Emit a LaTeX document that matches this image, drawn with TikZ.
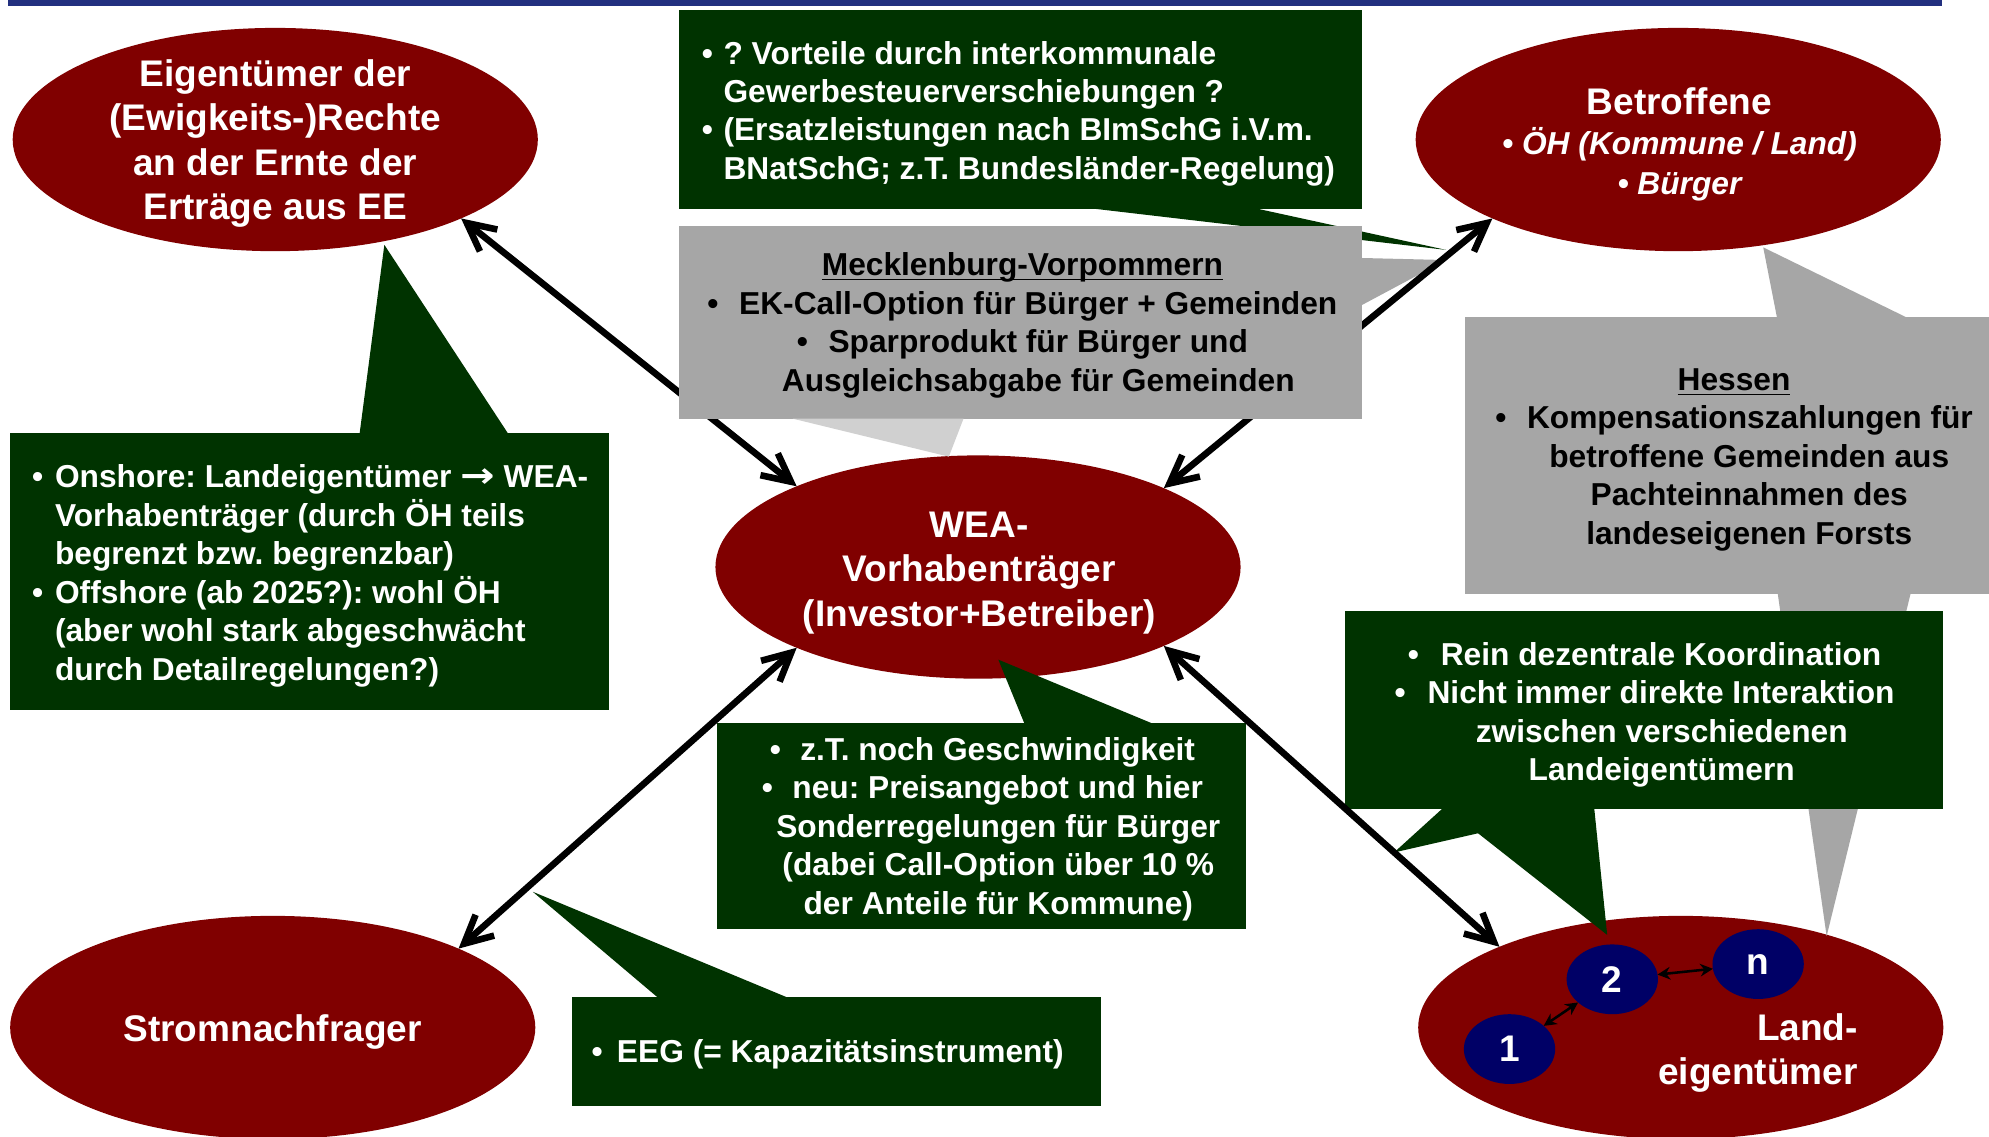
\documentclass[tikz,border=0pt]{standalone}
\usepackage{fontspec}
\usepackage{graphicx}
\setmainfont{Liberation Sans}
\newfontfamily\symfont{DejaVu Sans}
\usetikzlibrary{arrows.meta,shapes.geometric,calc}
\frenchspacing

\definecolor{darkred}{HTML}{800000}
\definecolor{boxgreen}{HTML}{003300}
\definecolor{boxgray}{HTML}{A6A6A6}
\definecolor{palegray}{HTML}{D0D0D0}
\definecolor{navyblue}{HTML}{000066}
\definecolor{barblue}{HTML}{22307F}

% bullet in a box of given width
\newcommand\bul[1]{\makebox[#1][l]{•}}
% underlined heading that keeps its height but drops its depth
\newcommand\ulhead[1]{\underline{\raisebox{0pt}[\height][0pt]{#1}}}

\begin{document}
\begin{tikzpicture}[x=0.5pt,y=-0.5pt,
  blob/.style={ellipse, fill=darkred, minimum width=207pt, minimum height=88pt, inner sep=0pt, outer sep=0pt},
  owner/.style={ellipse, fill=navyblue, minimum width=36pt, minimum height=27.5pt, inner sep=0pt, outer sep=0pt,
                text=white, font=\fontsize{14.6pt}{17pt}\selectfont\bfseries},
  gbox/.style={rectangle, fill=boxgreen, inner sep=0pt, outer sep=0pt},
  pframe/.style={rectangle, inner sep=0pt, outer sep=0pt},
  btext/.style={font=\fontsize{12.5pt}{15.15pt}\selectfont\bfseries, inner sep=0pt},
  etext/.style={font=\fontsize{14.6pt}{17.5pt}\selectfont\bfseries, text=white, align=center, inner sep=0pt},
  link/.style={line width=2.6pt, line cap=round,
               {Straight Barb[length=11pt,width=11pt]}-{Straight Barb[length=11pt,width=11pt]}},
  minilink/.style={line width=1pt, {Stealth[length=5pt,width=5pt]}-{Stealth[length=5pt,width=5pt]}},
]
\clip (0,0) rectangle (1568,896);
\fill[white] (0,0) rectangle (1568,896);

% header rule
\fill[barblue] (6,0) rectangle (1531,4.7);

% actors
\node[blob] (eig) at (217,110) {};
\node[blob] (bet) at (1323,110) {};
\node[blob] (wea) at (771,447) {};
\node[blob] (strom) at (215,810) {};
\node[blob] (land) at (1325,810) {};

% individual land owners
\node[owner] (o1) at (1190,827) {1};
\node[owner] (o2) at (1271,772) {2};
\node[owner] (on) at (1386,760) {n};
\draw[minilink] (o1) -- (o2);
\draw[minilink] (o2) -- (on);

% pointer tips of the callouts
\coordinate (tipG) at (1140,197);
\coordinate (tipMb) at (1140,205);
\coordinate (tipMw) at (748,360);
\coordinate (tipHb) at (1390,195);
\coordinate (tipHl) at (1440,738);
\coordinate (tipO) at (303,193);
\coordinate (tipZ) at (787,520);
\coordinate (tipE) at (420,703);
\coordinate (tipR) at (1267,737);
\coordinate (tipR2) at (1099,672);

% callout: municipal trade tax
\node[gbox, minimum width=269.5pt, minimum height=78.5pt] (topg) at (804.5,86.5) {};
\fill[boxgreen] ($(topg.south west)!7/12!(topg.south east)+(0,-2)$) -- (tipG)
  -- ($(topg.south west)!10/12!(topg.south east)+(0,-2)$) -- cycle;

% frame of the Mecklenburg-Vorpommern callout (filled later, above the arrows)
\path node[pframe, minimum width=269.5pt, minimum height=76pt] (meck) at (804.5,254) {};
\fill[boxgray] ($(meck.north east)!2/12!(meck.south east)+(-2,0)$) -- (tipMb)
  -- ($(meck.north east)!5/12!(meck.south east)+(-2,0)$) -- cycle;

% callout: Hessen
\node[rectangle, fill=boxgray, inner sep=0pt, outer sep=0pt, minimum width=211pt, minimum height=109pt] (hess) at (1366,359) {};
\fill[boxgray] ($(hess.north west)!7/12!(hess.north east)+(0,2)$) -- (tipHb)
  -- ($(hess.north west)!10/12!(hess.north east)+(0,2)$) -- cycle;
\fill[boxgray] ($(hess.south west)!7/12!(hess.south east)+(0,-2)$) -- (tipHl)
  -- ($(hess.south west)!10/12!(hess.south east)+(0,-2)$) -- cycle;

% callout: onshore / offshore
\node[gbox, minimum width=236pt, minimum height=109.5pt] (onsh) at (244,450.5) {};
\fill[boxgreen] ($(onsh.north west)!7/12!(onsh.north east)+(0,2)$) -- (tipO)
  -- ($(onsh.north west)!10/12!(onsh.north east)+(0,2)$) -- cycle;

% callout: speed / price bid
\node[gbox, minimum width=208.5pt, minimum height=81pt] (ztb) at (773.5,651) {};
\fill[boxgreen] ($(ztb.north west)!7/12!(ztb.north east)+(0,2)$) -- (tipZ)
  -- ($(ztb.north west)!10/12!(ztb.north east)+(0,2)$) -- cycle;

% callout: EEG
\node[gbox, minimum width=208.5pt, minimum height=43pt] (eeg) at (659.5,829) {};
\fill[boxgreen] ($(eeg.north west)!2/12!(eeg.north east)+(0,2)$) -- (tipE)
  -- ($(eeg.north west)!5/12!(eeg.north east)+(0,2)$) -- cycle;

% callout: decentral coordination
\node[gbox, minimum width=236pt, minimum height=78pt] (rein) at (1296,560) {};
\fill[boxgreen] ($(rein.south west)!2/12!(rein.south east)+(0,-2)$) -- (tipR2)
  -- ($(rein.south west)!5/12!(rein.south east)+(0,-2)$) -- cycle;
\fill[boxgreen] ($(rein.south west)!2/12!(rein.south east)+(0,-2)$) -- (tipR)
  -- ($(rein.south west)!5/12!(rein.south east)+(0,-2)$) -- cycle;

% relations to the project developer
\draw[link] (eig.-23.6) -- (wea.156.6);
\draw[link] (bet.203.2) -- (wea.23.2);
\draw[link] (strom.23.4) -- (wea.204);
\draw[link] (land.156.4) -- (wea.-23.9);

% Mecklenburg-Vorpommern callout body and its pale pointer
\fill[boxgray] (meck.south west) rectangle (meck.north east);
\fill[palegray] ($(meck.south west)!2/12!(meck.south east)$) -- (tipMw)
  -- ($(meck.south west)!5/12!(meck.south east)$) -- cycle;

% texts of the actors
\node[etext] (eigt) at (217,113) {Eigentümer der\\(Ewigkeits-)Rechte\\an der Ernte der\\Erträge aus EE};
\node[etext, font=\fontsize{14.6pt}{15.75pt}\selectfont\bfseries] (bett) at (1324,114)
  {Betroffene\\{\fontsize{12.5pt}{15.75pt}\selectfont\itshape • ÖH (Kommune / Land)}\\{\fontsize{12.5pt}{15.75pt}\selectfont\itshape • Bürger}};
\node[etext] (weat) at (772,451.5) {WEA-\\Vorhabenträger\\(Investor+Betreiber)};
\node[etext] (stromt) at (215,813.5) {Stromnachfrager};
\node[etext, align=right, anchor=east] (landt) at (1465,830) {Land-\\eigentümer};

% texts of the callouts
\node[btext, text=white, align=left, anchor=west] (topgt) at (553,89.5)
  {\bul{8.5pt}? Vorteile durch interkommunale\\
   \hspace*{8.5pt}Gewerbesteuerverschiebungen ?\\
   \bul{8.5pt}(Ersatzleistungen nach BImSchG i.V.m.\\
   \hspace*{8.5pt}BNatSchG; z.T. Bundesländer-Regelung)};

\node[btext, align=center] (meckt) at (806,256.5)
  {\ulhead{Mecklenburg-Vorpommern}\\
   \bul{12.5pt}EK-Call-Option für Bürger + Gemeinden\\
   \bul{12.5pt}Sparprodukt für Bürger und\\
   \hspace*{12.5pt}Ausgleichsabgabe für Gemeinden};

\node[btext, align=center] (hesst) at (1367,362.5)
  {\ulhead{Hessen}\\
   \bul{12.5pt}Kompensationszahlungen für\\
   \hspace*{12pt}betroffene Gemeinden aus\\
   \hspace*{12pt}Pachteinnahmen des\\
   \hspace*{12pt}landeseigenen Forsts};

\node[btext, text=white, align=left, anchor=west] (onsht) at (25,454)
  {\bul{9pt}Onshore: Landeigentümer {\symfont\scalebox{1.3}[1.1]{→}} WEA-\\
   \hspace*{9pt}Vorhabenträger (durch ÖH teils\\
   \hspace*{9pt}begrenzt bzw. begrenzbar)\\
   \bul{9pt}Offshore (ab 2025?): wohl ÖH\\
   \hspace*{9pt}(aber wohl stark abgeschwächt\\
   \hspace*{9pt}durch Detailregelungen?)};

\node[btext, text=white, align=center] (ztbt) at (774.5,653.5)
  {\bul{12pt}z.T. noch Geschwindigkeit\\
   \bul{12pt}neu: Preisangebot und hier\\
   \hspace*{12.5pt}Sonderregelungen für Bürger\\
   \hspace*{12.5pt}(dabei Call-Option über 10 \%\\
   \hspace*{12.5pt}der Anteile für Kommune)};

\node[btext, text=white, anchor=west] (eegt) at (466,831) {\bul{10pt}EEG (= Kapazitätsinstrument)};

\node[btext, text=white, align=center] (reint) at (1296.5,563.5)
  {\bul{13pt}Rein dezentrale Koordination\\
   \bul{13pt}Nicht immer direkte Interaktion\\
   \hspace*{13.5pt}zwischen verschiedenen\\
   \hspace*{13.5pt}Landeigentümern};
\end{tikzpicture}
\end{document}
